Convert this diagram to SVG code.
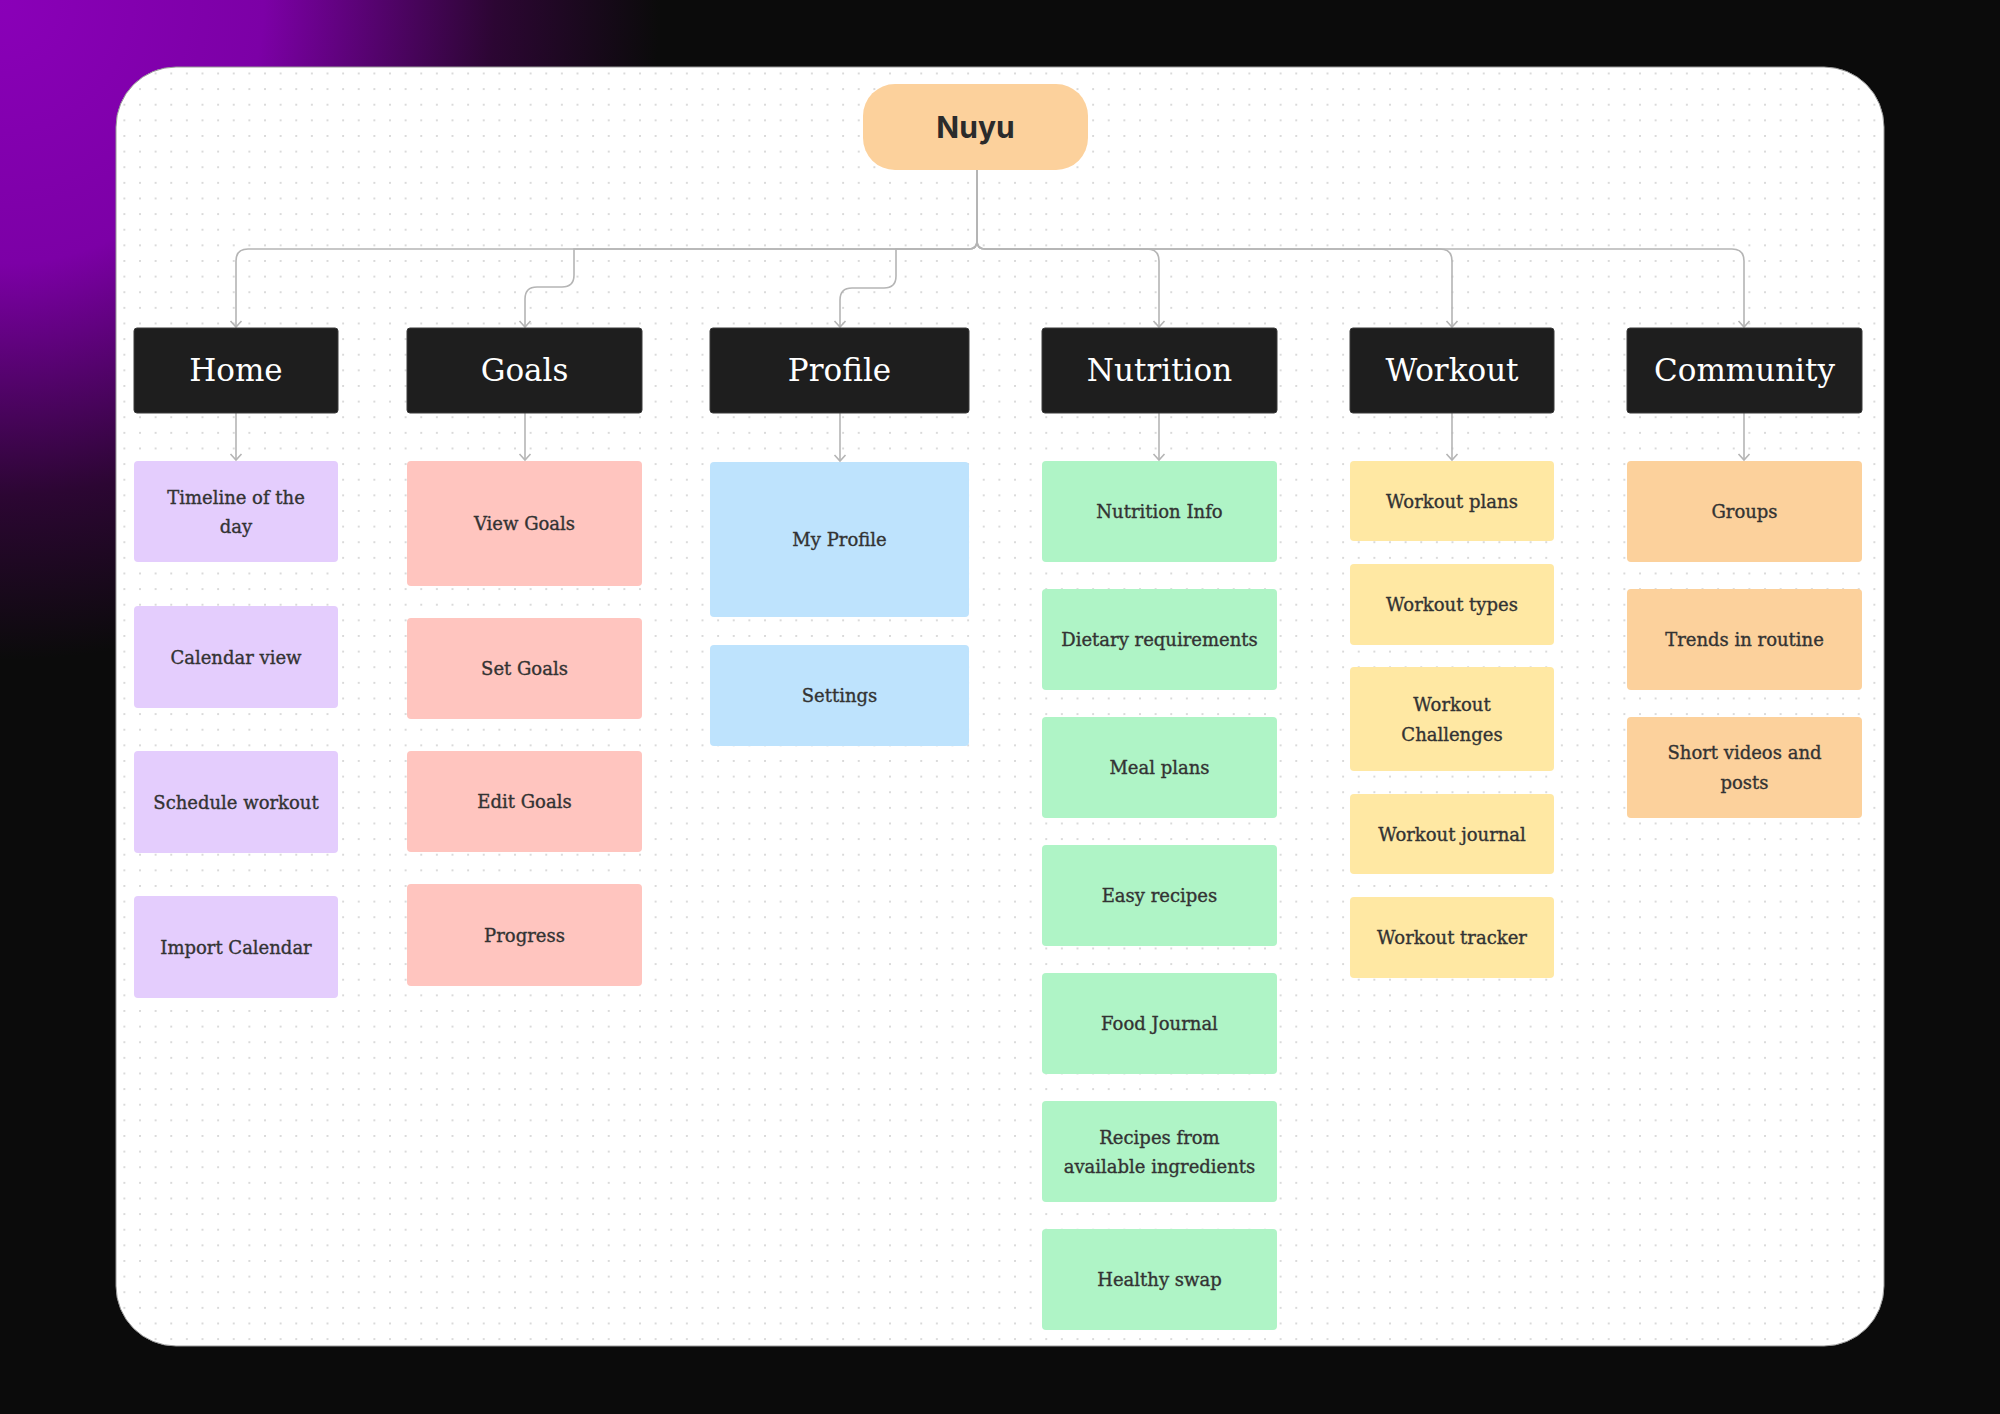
<svg xmlns="http://www.w3.org/2000/svg" width="2000" height="1414" viewBox="0 0 2000 1414">
<defs>
<radialGradient id="bg" cx="0" cy="0" r="660" gradientUnits="userSpaceOnUse">
<stop offset="0" stop-color="#8a00b8"/>
<stop offset="0.4" stop-color="#7c00a6"/>
<stop offset="0.75" stop-color="#2c0633"/>
<stop offset="1" stop-color="#0b0b0b"/>
</radialGradient>
<pattern id="dots" x="14" y="10" width="15.625" height="15.625" patternUnits="userSpaceOnUse">
<circle cx="1" cy="1" r="1" fill="#cfcfcf"/>
</pattern>
<marker id="arr" viewBox="0 0 14 14" refX="7" refY="7" markerWidth="14" markerHeight="14" markerUnits="userSpaceOnUse" orient="auto">
<path d="M1,1.5 L7,7 L1,12.5" fill="none" stroke="#b5b5b5" stroke-width="1.6"/>
</marker>
<clipPath id="cardclip"><rect x="116" y="67" width="1768" height="1279" rx="60"/></clipPath>
</defs>
<style>
.hdr rect{fill:#1e1e1e;stroke:#3a3a3a;stroke-width:1}
.hdr text{fill:#ffffff;font-family:"DejaVu Serif","Liberation Serif",serif;font-size:31px;text-anchor:middle;dominant-baseline:central}
.item text{fill:#333333;stroke:#333333;stroke-width:0.35;font-family:"DejaVu Serif","Liberation Serif",serif;font-size:18px;text-anchor:middle;dominant-baseline:central}
.home rect{fill:#e4cdfd}
.goals rect{fill:#ffc5bf}
.profile rect{fill:#bee3fd}
.nutr rect{fill:#aff4c6}
.work rect{fill:#ffe8a3}
.comm rect{fill:#fcd19c}
.conn path{fill:none;stroke:#b5b5b5;stroke-width:1.6}
</style>
<rect width="2000" height="1414" fill="#0b0b0b"/>
<rect width="2000" height="1414" fill="url(#bg)"/>
<rect x="116" y="67" width="1768" height="1279" rx="60" fill="#ffffff" stroke="#9a9a9a" stroke-width="1"/>
<rect x="116" y="67" width="1768" height="1279" fill="url(#dots)" clip-path="url(#cardclip)"/>

<g id="connectors" class="conn">
<path d="M977,170 V241 Q977,249 969,249 H248 Q236,249 236,261 V327" marker-end="url(#arr)"/>
<path d="M977,170 V241 Q977,249 969,249 H574 V275 Q574,287 562,287 H537 Q525,287 525,299 V327" marker-end="url(#arr)"/>
<path d="M977,170 V241 Q977,249 969,249 H896 V276 Q896,288 884,288 H852 Q840,288 840,300 V327" marker-end="url(#arr)"/>
<path d="M977,170 V241 Q977,249 985,249 H1147 Q1159,249 1159,261 V327" marker-end="url(#arr)"/>
<path d="M977,170 V241 Q977,249 985,249 H1440 Q1452,249 1452,261 V327" marker-end="url(#arr)"/>
<path d="M977,170 V241 Q977,249 985,249 H1732 Q1744,249 1744,261 V327" marker-end="url(#arr)"/>
<path d="M236,413 V460" marker-end="url(#arr)"/>
<path d="M525,413 V460" marker-end="url(#arr)"/>
<path d="M840,413 V461" marker-end="url(#arr)"/>
<path d="M1159,413 V460" marker-end="url(#arr)"/>
<path d="M1452,413 V460" marker-end="url(#arr)"/>
<path d="M1744,413 V460" marker-end="url(#arr)"/>
</g>

<g id="root">
<rect x="863" y="84" width="225" height="86" rx="32" fill="#fcd19c"/>
<text x="975.5" y="127" fill="#2b2b2b" font-family="Inter,'Noto Sans',sans-serif" font-weight="700" font-size="30" text-anchor="middle" dominant-baseline="central">Nuyu</text>
</g>

<g id="home" class="hdr"><rect x="134" y="328" width="204" height="85" rx="3"/><text x="236" y="370">Home</text></g>
<g id="goals" class="hdr"><rect x="407" y="328" width="235" height="85" rx="3"/><text x="524.5" y="370">Goals</text></g>
<g id="profile" class="hdr"><rect x="710" y="328" width="259" height="85" rx="3"/><text x="839.5" y="370">Profile</text></g>
<g id="nutrition" class="hdr"><rect x="1042" y="328" width="235" height="85" rx="3"/><text x="1159.5" y="370">Nutrition</text></g>
<g id="workout" class="hdr"><rect x="1350" y="328" width="204" height="85" rx="3"/><text x="1452" y="370">Workout</text></g>
<g id="community" class="hdr"><rect x="1627" y="328" width="235" height="85" rx="3"/><text x="1744.5" y="370">Community</text></g>

<g id="home-items" class="item home">
<g id="timeline"><rect x="134" y="461" width="204" height="101" rx="4"/><text x="236" y="497">Timeline of the</text><text x="236" y="526.5">day</text></g>
<g id="calendar-view"><rect x="134" y="606" width="204" height="102" rx="4"/><text x="236" y="657">Calendar view</text></g>
<g id="schedule-workout"><rect x="134" y="751" width="204" height="102" rx="4"/><text x="236" y="802">Schedule workout</text></g>
<g id="import-calendar"><rect x="134" y="896" width="204" height="102" rx="4"/><text x="236" y="947">Import Calendar</text></g>
</g>

<g id="goals-items" class="item goals">
<g id="view-goals"><rect x="407" y="461" width="235" height="125" rx="4"/><text x="524.5" y="523.5">View Goals</text></g>
<g id="set-goals"><rect x="407" y="618" width="235" height="101" rx="4"/><text x="524.5" y="668.5">Set Goals</text></g>
<g id="edit-goals"><rect x="407" y="751" width="235" height="101" rx="4"/><text x="524.5" y="801.5">Edit Goals</text></g>
<g id="progress"><rect x="407" y="884" width="235" height="102" rx="4"/><text x="524.5" y="935">Progress</text></g>
</g>

<g id="profile-items" class="item profile">
<g id="my-profile"><rect x="710" y="462" width="259" height="155" rx="4"/><text x="839.5" y="539.5">My Profile</text></g>
<g id="settings"><rect x="710" y="645" width="259" height="101" rx="4"/><text x="839.5" y="695.5">Settings</text></g>
</g>

<g id="nutrition-items" class="item nutr">
<g id="nutrition-info"><rect x="1042" y="461" width="235" height="101" rx="4"/><text x="1159.5" y="511.5">Nutrition Info</text></g>
<g id="dietary"><rect x="1042" y="589" width="235" height="101" rx="4"/><text x="1159.5" y="639.5">Dietary requirements</text></g>
<g id="meal-plans"><rect x="1042" y="717" width="235" height="101" rx="4"/><text x="1159.5" y="767.5">Meal plans</text></g>
<g id="easy-recipes"><rect x="1042" y="845" width="235" height="101" rx="4"/><text x="1159.5" y="895.5">Easy recipes</text></g>
<g id="food-journal"><rect x="1042" y="973" width="235" height="101" rx="4"/><text x="1159.5" y="1023.5">Food Journal</text></g>
<g id="recipes-available"><rect x="1042" y="1101" width="235" height="101" rx="4"/><text x="1159.5" y="1137">Recipes from</text><text x="1159.5" y="1166.5">available ingredients</text></g>
<g id="healthy-swap"><rect x="1042" y="1229" width="235" height="101" rx="4"/><text x="1159.5" y="1279.5">Healthy swap</text></g>
</g>

<g id="workout-items" class="item work">
<g id="workout-plans"><rect x="1350" y="461" width="204" height="80" rx="4"/><text x="1452" y="501">Workout plans</text></g>
<g id="workout-types"><rect x="1350" y="564" width="204" height="81" rx="4"/><text x="1452" y="604.5">Workout types</text></g>
<g id="workout-challenges"><rect x="1350" y="667" width="204" height="104" rx="4"/><text x="1452" y="704.5">Workout</text><text x="1452" y="734">Challenges</text></g>
<g id="workout-journal"><rect x="1350" y="794" width="204" height="80" rx="4"/><text x="1452" y="834">Workout journal</text></g>
<g id="workout-tracker"><rect x="1350" y="897" width="204" height="81" rx="4"/><text x="1452" y="937.5">Workout tracker</text></g>
</g>

<g id="community-items" class="item comm">
<g id="groups"><rect x="1627" y="461" width="235" height="101" rx="4"/><text x="1744.5" y="511.5">Groups</text></g>
<g id="trends"><rect x="1627" y="589" width="235" height="101" rx="4"/><text x="1744.5" y="639.5">Trends in routine</text></g>
<g id="short-videos"><rect x="1627" y="717" width="235" height="101" rx="4"/><text x="1744.5" y="752.5">Short videos and</text><text x="1744.5" y="782">posts</text></g>
</g>
</svg>
